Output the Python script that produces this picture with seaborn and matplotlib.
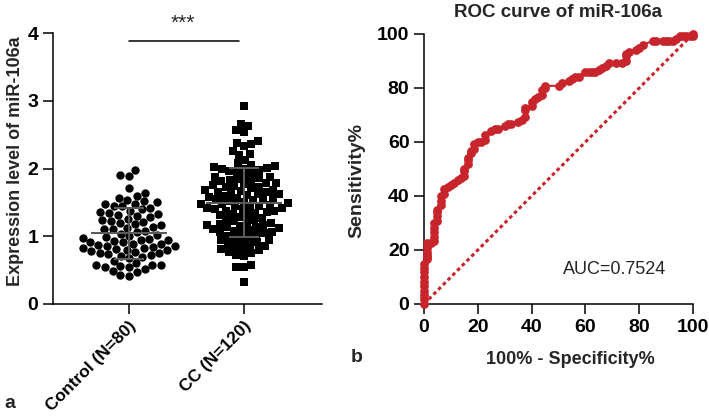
import numpy as np
import pandas as pd
import matplotlib
matplotlib.use("Agg")
import matplotlib.pyplot as plt
import seaborn as sns

# ---------------- data ----------------
groups = ["Control (N=80)", "CC (N=120)"]

control_vals = [1.98, 1.91, 1.89,
                1.71, 1.64, 1.60,
                1.56, 1.54, 1.52, 1.50,
                1.48, 1.47, 1.45, 1.44, 1.42, 1.40, 1.38,
                1.36, 1.34, 1.33, 1.32, 1.30, 1.28,
                1.26, 1.24, 1.22, 1.21, 1.20, 1.18, 1.16,
                1.14, 1.12, 1.11, 1.10, 1.08, 1.06, 1.04, 1.02,
                1.00, 0.99, 0.97, 0.96, 0.95, 0.94, 0.93, 0.92, 0.91,
                0.89, 0.88, 0.87, 0.86, 0.85, 0.84, 0.83, 0.82, 0.81,
                0.80, 0.79, 0.78, 0.77, 0.76, 0.75, 0.74, 0.72, 0.71, 0.70,
                0.68, 0.64, 0.61,
                0.58, 0.57, 0.57, 0.56, 0.55, 0.54, 0.52,
                0.49, 0.47, 0.43, 0.41]

cc_vals = [2.92,
           2.66, 2.63, 2.57, 2.54,
           2.41, 2.38, 2.36, 2.33,
           2.26, 2.22, 2.20, 2.13,
           2.08, 2.05, 2.03, 2.02, 2.01, 2.00, 1.99, 1.98, 1.96, 1.95, 1.93,
           1.89, 1.88, 1.87, 1.86, 1.84, 1.83, 1.82, 1.81,
           1.79, 1.78, 1.77, 1.75, 1.74, 1.73, 1.72, 1.71,
           1.69, 1.68, 1.67, 1.66, 1.65, 1.64, 1.63, 1.62, 1.61,
           1.59, 1.58, 1.57, 1.56, 1.55, 1.54, 1.53, 1.52, 1.51,
           1.49, 1.48, 1.47, 1.46, 1.45, 1.44, 1.43, 1.42, 1.41, 1.40, 1.40,
           1.38, 1.37, 1.36, 1.35, 1.33, 1.32, 1.31,
           1.28, 1.27, 1.25, 1.24, 1.22, 1.21,
           1.19, 1.18, 1.17, 1.16, 1.15, 1.14, 1.13, 1.12, 1.11,
           1.09, 1.08, 1.07, 1.06, 1.05, 1.04, 1.02, 1.01,
           0.98, 0.96, 0.95, 0.94, 0.93, 0.91,
           0.89, 0.87, 0.85, 0.84, 0.82, 0.81,
           0.79, 0.77, 0.75, 0.73, 0.71,
           0.58, 0.55, 0.54,
           0.33]

roc_fpr = [0, 0, 0, 0, 0, 0, 0, 0, 0, 0,
           1.25, 1.25, 1.25, 1.25, 1.25, 1.25,
           2.5, 3.75, 3.75, 3.75, 3.75, 3.75, 5, 5, 5, 5,
           6.25, 6.25, 6.25, 7.5, 7.5, 8.75,
           10, 11.25, 12.5, 13.75, 15, 15, 15, 16.25, 16.25, 16.25,
           17.5, 17.5, 18.75, 18.75, 20, 21.25, 22.5, 22.5, 25, 26.25,
           27.5, 30, 31.25, 32.5,
           35, 36.25, 37.5, 37.5, 37.5, 40, 40, 41.25, 42.5, 43.75, 43.75, 45, 45,
           50, 51.25, 53.75, 55, 56.25, 57.5, 60, 61.25, 62.5, 63.75, 65, 66.25,
           67.5, 68.75, 71.25, 73.75, 75, 75, 75, 76.25, 78.75, 80, 81.25,
           85, 86.25, 88.75, 90, 91.25, 92.5, 93.75, 95, 96.25, 97.5, 98.75, 100, 100]
roc_tpr = [0, 1.7, 3.3, 5, 6.7, 8.3, 10, 11.7, 13.3, 15,
           16.7, 17.5, 18.3, 19.2, 20.8, 22.5,
           22.5, 23.3, 25, 26.7, 28.3, 30, 30.8, 32.5, 34.2, 35,
           36.7, 38.3, 40, 40.8, 42.5, 43.3,
           44.2, 45, 45.8, 46.7, 47.5, 49.2, 50, 51.7, 53.3, 54.2,
           55.8, 56.7, 57.5, 59.2, 60, 60, 60.8, 62.5, 64.2, 65,
           65, 65.8, 66.7, 66.7,
           67.5, 68.3, 69.2, 71.7, 72.5, 73.3, 75, 75.8, 76.7, 77.5, 79.2, 80, 80.8,
           80.8, 81.7, 82.5, 83.3, 84.2, 84.2, 85.8, 85.8, 85.8, 85.8, 86.7, 87.5,
           88.3, 89.2, 89.2, 89.2, 90, 91.7, 92.5, 93.3, 94.2, 95, 95.8,
           97.5, 97.5, 97.5, 97.5, 97.5, 97.5, 98.3, 99.2, 99.2, 99.2, 99.2, 99.2, 100]
auc_text = "AUC=0.7524"

# ---------------- style ----------------
sns.set_style("ticks")
plt.rcParams["font.family"] = ["Liberation Sans", "DejaVu Sans"]
plt.rcParams["axes.linewidth"] = 1.1
plt.rcParams["xtick.major.width"] = 1.1
plt.rcParams["ytick.major.width"] = 1.1
plt.rcParams["xtick.major.size"] = 7
plt.rcParams["ytick.major.size"] = 7
plt.rcParams["xtick.color"] = "black"
plt.rcParams["ytick.color"] = "black"
plt.rcParams["axes.edgecolor"] = "black"

RED = "#C8242B"
TICK_FS = 14
LABEL_FS = 13

fig = plt.figure(figsize=(7.09, 4.18), dpi=100)
W, H = 709, 418
ax1 = fig.add_axes([53 / W, 1 - 304 / H, (322 - 53) / W, (304 - 33) / H])
ax2 = fig.add_axes([424 / W, 1 - 304 / H, (693 - 424) / W, (304 - 34) / H])

# ---------------- panel a ----------------
df_c = pd.DataFrame({"group": groups[0], "value": control_vals})
df_t = pd.DataFrame({"group": groups[1], "value": cc_vals})
sns.swarmplot(data=df_c, x="group", y="value", order=groups, marker="o",
              color="black", size=6.0, ax=ax1, zorder=2)
sns.swarmplot(data=df_t, x="group", y="value", order=groups, marker="s",
              color="black", size=5.4, ax=ax1, zorder=2)

for i, vals in enumerate([control_vals, cc_vals]):
    m = np.mean(vals)
    s = np.std(vals, ddof=1)
    ax1.hlines(m, i - 0.33, i + 0.33, color="#5a5a5a", lw=1.5, zorder=3)
    ax1.vlines(i, m - s, m + s, color="#5a5a5a", lw=1.5, zorder=3)
    ax1.hlines([m - s, m + s], i - 0.13, i + 0.13, color="#5a5a5a", lw=1.5, zorder=3)

ax1.set_xlim(-0.66, 1.68)
ax1.set_ylim(0, 4)
ax1.set_yticks([0, 1, 2, 3, 4])
ax1.set_xlabel("")
ax1.set_ylabel("Expression level of miR-106a", fontsize=LABEL_FS, fontweight="bold")
ax1.yaxis.set_label_coords(-0.141, 0.528)
ax1.yaxis.label.set_va("center")
for lab in ax1.get_yticklabels():
    lab.set_fontweight("bold")
    lab.set_fontsize(TICK_FS)
ax1.set_xticks([0, 1])
ax1.set_xticklabels(groups, rotation=45, ha="right", rotation_mode="anchor",
                    fontsize=12.5, fontweight="bold")
sns.despine(ax=ax1)

ax1.plot([0, 0.96], [3.88, 3.88], color="black", lw=1.1, clip_on=False)
ax1.text(0.47, 4.14, "***", ha="center", va="center", fontsize=15, clip_on=False)

# ---------------- panel b ----------------
ax2.plot([0, 100], [0, 100], color=RED, lw=2.2, dashes=(1.2, 1.0), zorder=2)
sns.lineplot(x=roc_fpr, y=roc_tpr, sort=False, estimator=None, color=RED,
             lw=1.5, marker="o", markersize=6.3, markeredgewidth=0,
             ax=ax2, zorder=3, clip_on=False)
ax2.set_xlim(0, 100)
ax2.set_ylim(0, 100)
ax2.set_xticks([0, 20, 40, 60, 80, 100])
ax2.set_yticks([0, 20, 40, 60, 80, 100])
for lab in ax2.get_xticklabels() + ax2.get_yticklabels():
    lab.set_fontweight("bold")
    lab.set_fontsize(TICK_FS)
ax2.set_xlabel("100% - Specificity%", fontsize=LABEL_FS, fontweight="bold")
ax2.xaxis.set_label_coords((570 - 424) / 269, (304 - 359) / 270)
ax2.xaxis.label.set_va("center")
ax2.set_ylabel("Sensitivity%", fontsize=14, fontweight="bold")
ax2.yaxis.set_label_coords((357 - 424) / 269, (304 - 181) / 270)
ax2.yaxis.label.set_va("center")
ax2.set_title("ROC curve of miR-106a", fontsize=13.5, fontweight="bold", pad=12)
ax2.text(51.7, 12.6, auc_text, fontsize=13, ha="left", va="center")
sns.despine(ax=ax2)

fig.text(4 / W, 1 - 403 / H, "a", fontsize=14, fontweight="bold", ha="left", va="center")
fig.text(351 / W, 1 - 358 / H, "b", fontsize=14, fontweight="bold", ha="left", va="center")

fig.savefig("out.png", dpi=100)
